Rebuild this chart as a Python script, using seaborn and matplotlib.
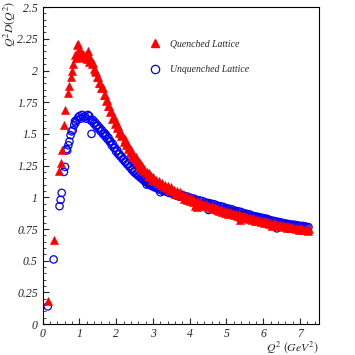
import numpy as np
import pandas as pd
import seaborn as sns
import matplotlib.pyplot as plt
from matplotlib.lines import Line2D
from matplotlib.ticker import MultipleLocator

# quenched lattice (red triangles)
q_x = [0.14, 0.30, 0.45, 0.49, 0.52, 0.58, 0.61, 0.68, 0.72, 0.77, 0.81, 0.84, 0.88, 0.90,
       0.93, 0.96, 0.98, 1.00, 1.02, 1.05, 1.08, 1.11, 1.14, 1.17, 1.20, 1.23, 1.26, 1.28,
       1.30, 1.33, 1.36, 1.39, 1.42, 1.45, 1.48, 1.51, 1.54, 1.57, 1.60, 1.63, 1.66, 1.69,
       1.72, 1.75, 1.78, 1.81, 1.84, 1.87, 1.90, 1.93, 1.96, 1.99, 2.02, 2.05, 2.08, 2.11,
       2.14, 2.17, 2.20, 2.23, 2.26, 2.29, 2.32, 2.35, 2.38, 2.41, 2.44, 2.47, 2.50, 2.53,
       2.56, 2.59, 2.62, 2.65, 2.68, 2.71, 2.74, 2.77, 2.80, 2.83, 2.86, 2.89, 2.92, 2.95,
       2.98, 3.01, 3.05, 3.09, 3.13, 3.17, 3.21, 3.25, 3.29, 3.33, 3.37, 3.41, 3.45, 3.49,
       3.53, 3.57, 3.61, 3.65, 3.69, 3.73, 3.77, 3.81, 3.85, 3.89, 3.93, 3.97, 4.01, 4.05,
       4.09, 4.13, 4.17, 4.21, 4.25, 4.29, 4.33, 4.37, 4.41, 4.45, 4.49, 4.53, 4.57, 4.61,
       4.65, 4.69, 4.73, 4.77, 4.81, 4.85, 4.89, 4.93, 4.97, 5.01, 5.05, 5.09, 5.13, 5.17,
       5.21, 5.25, 5.29, 5.33, 5.37, 5.41, 5.45, 5.49, 5.53, 5.57, 5.61, 5.65, 5.69, 5.73,
       5.77, 5.81, 5.85, 5.89, 5.93, 5.97, 6.01, 6.05, 6.09, 6.13, 6.17, 6.21, 6.25, 6.29,
       6.33, 6.37, 6.41, 6.45, 6.49, 6.53, 6.57, 6.61, 6.65, 6.69, 6.73, 6.77, 6.81, 6.85,
       6.89, 6.93, 6.97, 7.01, 7.05, 7.09, 7.13, 7.17, 7.21, 7.25,
       4.15, 4.20, 5.38, 6.24]
q_y = [0.18, 0.66, 1.21, 1.27, 1.37, 1.57, 1.69, 1.82, 1.88, 1.95, 2.00, 2.05, 2.12, 2.10,
       2.20, 2.21, 2.17, 2.14, 2.16, 2.12, 2.11, 2.13, 2.10, 2.12, 2.09, 2.15, 2.07, 2.09,
       2.10, 2.05, 2.06, 2.01, 2.00, 1.99, 1.95, 1.95, 1.90, 1.90, 1.86, 1.86, 1.81, 1.81,
       1.76, 1.77, 1.72, 1.72, 1.67, 1.68, 1.62, 1.63, 1.58, 1.59, 1.55, 1.56, 1.51, 1.52,
       1.48, 1.49, 1.44, 1.46, 1.41, 1.42, 1.38, 1.40, 1.35, 1.37, 1.32, 1.34, 1.30, 1.32,
       1.28, 1.29, 1.25, 1.27, 1.23, 1.25, 1.21, 1.22, 1.19, 1.20, 1.17, 1.19, 1.16, 1.17,
       1.14, 1.16, 1.13, 1.14, 1.11, 1.13, 1.10, 1.11, 1.08, 1.10, 1.07, 1.09, 1.06, 1.08,
       1.05, 1.06, 1.03, 1.05, 1.02, 1.04, 1.01, 1.02, 0.99, 1.01, 0.98, 1.00, 0.97, 0.99,
       0.96, 0.98, 0.95, 0.97, 0.95, 0.96, 0.94, 0.95, 0.93, 0.945, 0.92, 0.935, 0.915, 0.93,
       0.905, 0.92, 0.90, 0.91, 0.89, 0.905, 0.885, 0.895, 0.875, 0.89, 0.87, 0.885, 0.865, 0.875,
       0.86, 0.87, 0.85, 0.865, 0.845, 0.855, 0.84, 0.85, 0.835, 0.845, 0.83, 0.84, 0.82, 0.835,
       0.815, 0.825, 0.81, 0.82, 0.805, 0.815, 0.80, 0.81, 0.795, 0.805, 0.79, 0.80, 0.785, 0.795,
       0.78, 0.79, 0.775, 0.785, 0.77, 0.78, 0.765, 0.775, 0.76, 0.77, 0.755, 0.765, 0.755, 0.76,
       0.75, 0.76, 0.745, 0.755, 0.74, 0.75, 0.74, 0.745, 0.735, 0.75,
       0.93, 0.925, 0.82, 0.77]

# unquenched lattice (blue open circles)
u_x = [0.14, 0.30, 0.46, 0.49, 0.52, 0.58, 0.61, 0.65, 0.67, 0.70, 0.73, 0.76, 0.79, 0.82,
       0.86, 0.88, 0.90, 0.93, 0.97, 1.00, 1.04, 1.07, 1.11, 1.15, 1.19, 1.23, 1.27, 1.30,
       1.33, 1.34, 1.37, 1.40, 1.43, 1.46, 1.49, 1.52, 1.55, 1.58, 1.61, 1.64, 1.67, 1.70,
       1.73, 1.76, 1.79, 1.82, 1.85, 1.88, 1.91, 1.94, 1.97, 2.00, 2.03, 2.06, 2.09, 2.12,
       2.15, 2.18, 2.21, 2.24, 2.27, 2.30, 2.33, 2.36, 2.39, 2.42, 2.45, 2.48, 2.51, 2.54,
       2.57, 2.60, 2.63, 2.66, 2.69, 2.72, 2.75, 2.78, 2.81, 2.84, 2.87, 2.90, 2.93, 2.96,
       2.99, 3.03, 3.07, 3.11, 3.15, 3.19, 3.23, 3.27, 3.31, 3.35, 3.39, 3.43, 3.47, 3.51,
       3.55, 3.59, 3.63, 3.67, 3.71, 3.75, 3.79, 3.83, 3.87, 3.91, 3.95, 3.99, 4.03, 4.07,
       4.11, 4.15, 4.19, 4.23, 4.27, 4.31, 4.35, 4.39, 4.43, 4.47, 4.51, 4.55, 4.59, 4.63,
       4.67, 4.71, 4.75, 4.79, 4.83, 4.87, 4.91, 4.95, 4.99, 5.03, 5.07, 5.11, 5.15, 5.19,
       5.23, 5.27, 5.31, 5.35, 5.39, 5.43, 5.47, 5.51, 5.55, 5.59, 5.63, 5.67, 5.71, 5.75,
       5.79, 5.83, 5.87, 5.91, 5.95, 5.99, 6.03, 6.07, 6.11, 6.15, 6.19, 6.23, 6.27, 6.31,
       6.35, 6.39, 6.43, 6.47, 6.51, 6.55, 6.59, 6.63, 6.67, 6.71, 6.75, 6.79, 6.83, 6.87,
       6.91, 6.95, 6.99, 7.03, 7.07, 7.11, 7.15, 7.19, 7.23,
       2.83, 4.51, 6.37, 3.20, 1.70]
u_y = [0.14, 0.51, 0.93, 0.98, 1.035, 1.20, 1.24, 1.38, 1.37, 1.41, 1.44, 1.49, 1.52, 1.53,
       1.57, 1.60, 1.59, 1.61, 1.63, 1.64, 1.62, 1.65, 1.63, 1.64, 1.62, 1.65, 1.64, 1.61,
       1.50, 1.60, 1.61, 1.58, 1.59, 1.56, 1.57, 1.54, 1.55, 1.52, 1.53, 1.50, 1.51, 1.48,
       1.49, 1.46, 1.47, 1.44, 1.44, 1.41, 1.42, 1.39, 1.39, 1.36, 1.37, 1.34, 1.34, 1.32,
       1.32, 1.30, 1.30, 1.28, 1.28, 1.26, 1.26, 1.24, 1.245, 1.22, 1.225, 1.20, 1.21, 1.185,
       1.19, 1.17, 1.175, 1.155, 1.16, 1.14, 1.145, 1.125, 1.135, 1.115, 1.12, 1.10, 1.11, 1.09,
       1.10, 1.08, 1.09, 1.07, 1.08, 1.06, 1.07, 1.05, 1.06, 1.045, 1.055, 1.035, 1.045, 1.03,
       1.04, 1.02, 1.03, 1.01, 1.025, 1.005, 1.02, 1.00, 1.01, 0.99, 1.005, 0.985, 0.995, 0.975,
       0.99, 0.97, 0.98, 0.96, 0.975, 0.955, 0.97, 0.95, 0.96, 0.945, 0.955, 0.94, 0.95, 0.93,
       0.945, 0.925, 0.935, 0.92, 0.93, 0.91, 0.925, 0.905, 0.915, 0.90, 0.91, 0.89, 0.905, 0.885,
       0.895, 0.88, 0.89, 0.87, 0.885, 0.865, 0.875, 0.86, 0.87, 0.855, 0.865, 0.85, 0.855, 0.84,
       0.85, 0.835, 0.845, 0.83, 0.84, 0.825, 0.835, 0.82, 0.83, 0.815, 0.82, 0.81, 0.815, 0.80,
       0.81, 0.795, 0.805, 0.79, 0.80, 0.785, 0.795, 0.78, 0.79, 0.78, 0.785, 0.775, 0.785, 0.77,
       0.78, 0.77, 0.775, 0.765, 0.775, 0.76, 0.77, 0.76, 0.765,
       1.10, 0.90, 0.755, 1.04, 1.50]

labels = ["Quenched Lattice", "Unquenched Lattice"]

sns.set_style("ticks")
plt.rcParams["font.family"] = ["Liberation Serif", "DejaVu Serif"]
plt.rcParams["mathtext.fontset"] = "stix"

fig = plt.figure(figsize=(3.55, 3.55), dpi=100)
ax = fig.add_axes([0.120, 0.087, 0.779, 0.893])

sns.scatterplot(x=u_x, y=u_y, ax=ax, marker="o", s=28, facecolors="none",
                edgecolor="#0000ff", linewidth=0.9)
sns.scatterplot(x=q_x, y=q_y, ax=ax, marker="^", s=34, color="#ff0000",
                edgecolor="#ff0000", linewidth=0.4)

ax.set_xlim(0, 7.52)
ax.set_ylim(0, 2.5)
ax.xaxis.set_major_locator(MultipleLocator(1))
ax.xaxis.set_minor_locator(MultipleLocator(0.2))
ax.yaxis.set_major_locator(MultipleLocator(0.25))
ax.yaxis.set_minor_locator(MultipleLocator(0.05))
ax.yaxis.set_major_formatter(plt.FuncFormatter(lambda v, p: f"{v:g}"))
ax.tick_params(which="major", direction="in", length=4, width=0.8, labelsize=8.5)
ax.tick_params(axis="x", which="major", pad=2.5)
ax.tick_params(which="minor", direction="in", length=2.2, width=0.6)
for lab in ax.get_xticklabels() + ax.get_yticklabels():
    lab.set_style("italic")
for s in ax.spines.values():
    s.set_linewidth(0.8)
    s.set_color("black")

ax.set_ylabel(r"$Q^2D(Q^2)$", fontsize=8.5, rotation=90, ha="right", va="center")
ax.yaxis.set_label_coords(-0.12, 1.02)
ax.set_xlabel(r"$Q^2\ (GeV^2)$", fontsize=8.5, ha="right", va="center")
ax.xaxis.set_label_coords(1.0, -0.072)

handles = [
    Line2D([], [], ls="none", marker="^", ms=6, color="#ff0000"),
    Line2D([], [], ls="none", marker="o", ms=6, mfc="none", mec="#0000ff", mew=0.9),
]
leg = ax.legend(handles, labels, loc="upper left", bbox_to_anchor=(0.34, 0.925),
                frameon=False, labelspacing=1.7, handletextpad=0.5,
                prop={"family": "Liberation Serif", "style": "italic", "size": 7})

fig.savefig("out.png", dpi=100)
